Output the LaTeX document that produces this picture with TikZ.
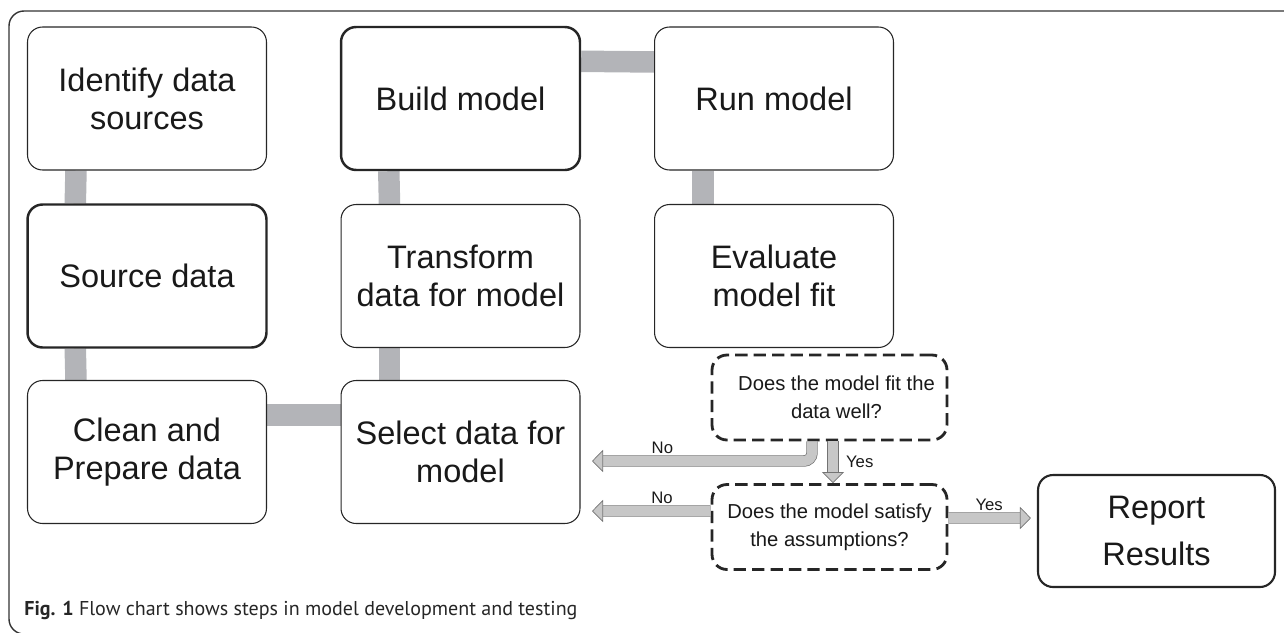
\documentclass[tikz,border=0pt]{standalone}
\usepackage{fontspec}
\setmainfont{Liberation Sans}
\newfontfamily\capfont{PT Sans}
\usetikzlibrary{arrows.meta,backgrounds}
\definecolor{barcol}{RGB}{179,180,184}

\begin{document}
\begin{tikzpicture}[x=0.02cm,y=-0.02cm,
 paso/.style={draw=black!85,rounded corners=0.3cm,line width=0.6pt,fill=white,
   minimum width=4.78cm,minimum height=2.86cm,inner sep=0pt,align=center,
   text=black!90,font=\fontsize{18.5}{21.6}\selectfont},
 pasofuerte/.style={paso,line width=1.4pt},
 pregunta/.style={draw=black!85,dashed,dash pattern=on 7pt off 3.5pt,line width=1.6pt,
   rounded corners=0.3cm,fill=white,minimum width=4.7cm,minimum height=1.7cm,
   inner sep=0pt,align=center,text=black!90,font=\fontsize{11.5}{16}\selectfont},
 barra/.style={draw=barcol,line width=0.43cm},
 flecha/.style={draw=black!55,line width=0.4pt,double=black!22,double distance=0.2cm,
   rounded corners=0.16cm,-{Triangle[length=0.22cm,width=0.44cm,fill=black!22,line width=0.4pt]}},
 etiq/.style={font=\fontsize{9.5}{11}\selectfont,text=black!90,inner sep=1pt}]
 \useasboundingbox (0,0) rectangle (1284,632);
 \def\cA{147}   % columnas
 \def\cB{460.5}
 \def\cC{774}
 \def\fA{98.5}  % filas
 \def\fB{276}
 \def\fC{452}
 % marco de la figura
 \draw[black!80,line width=0.8pt,rounded corners=0.3cm] (1300,11) -- (9,11) -- (9,634) -- (1300,634);
 % pasos
 \node[paso] (iden) at (\cA,\fA) {Identify data\\sources};
 \node[pasofuerte] (fuente) at (\cA,\fB) {Source data};
 \node[paso] (limpia) at (\cA,\fC) {Clean and\\Prepare data};
 \node[paso] (selec) at (\cB,\fC) {Select data for\\model};
 \node[paso] (transf) at (\cB,\fB) {Transform\\data for model};
 \node[pasofuerte] (constr) at (\cB,\fA) {Build model};
 \node[paso] (corre) at (\cC,\fA) {Run model};
 \node[paso] (evalua) at (\cC,\fB) {Evaluate\\model fit};
 \node[pregunta] (ajuste) at (829.5,397.5) {\hspace*{0.28cm}Does the model fit the\\\hspace*{0.28cm}data well?};
 \node[pregunta] (supuestos) at (829.5,527) {Does the model satisfy\\the assumptions?};
 \node[paso,line width=1.2pt,minimum width=4.74cm,minimum height=2.24cm,
   font=\fontsize{18.5}{27}\selectfont] (reporte) at (1156.5,531) {Report\\Results};
 % barras grises entre pasos
 \begin{scope}[on background layer]
  \draw[barra] ([xshift=0.98cm]iden.south west) -- ([xshift=0.98cm]fuente.north west);
  \draw[barra] ([xshift=0.98cm]fuente.south west) -- ([xshift=0.98cm]limpia.north west);
  \draw[barra] ([yshift=-0.7cm]limpia.north east) -- ([yshift=-0.7cm]selec.north west);
  \draw[barra] ([xshift=0.98cm]selec.north west) -- ([xshift=0.98cm]transf.south west);
  \draw[barra] ([xshift=0.98cm]transf.north west) -- ([xshift=0.98cm]constr.south west);
  \draw[barra] ([yshift=-0.71cm]constr.north east) -- ([yshift=-0.71cm]corre.north west);
  \draw[barra] ([xshift=0.98cm]corre.south west) -- ([xshift=0.98cm]evalua.north west);
 \end{scope}
 % decisiones
 \coordinate (no1) at (592,461);
 \coordinate (no2) at (592,511);
 \draw[flecha] ([xshift=-0.35cm]ajuste.south) |- (no1) node[etiq,pos=0.84,above=3pt] {No};
 \draw[flecha] ([xshift=0.07cm]ajuste.south) -- ([xshift=0.07cm]supuestos.north)
   node[etiq,midway,right=0.22cm] {Yes};
 \draw[flecha] ([yshift=0.32cm]supuestos.west) -- (no2) node[etiq,pos=0.41,above=3pt] {No};
 \draw[flecha,shorten >=0.12cm] ([yshift=0.18cm]supuestos.east) -- ([yshift=0.26cm]reporte.west)
   node[etiq,pos=0.46,above=3pt] {Yes};
 % pie de figura
 \node[anchor=base west,inner sep=0pt,text=black!85,font=\capfont\fontsize{11.4}{13}\selectfont]
   (pie) at (24,615) {\textbf{Fig. 1} Flow chart shows steps in model development and testing};
\end{tikzpicture}
\end{document}
